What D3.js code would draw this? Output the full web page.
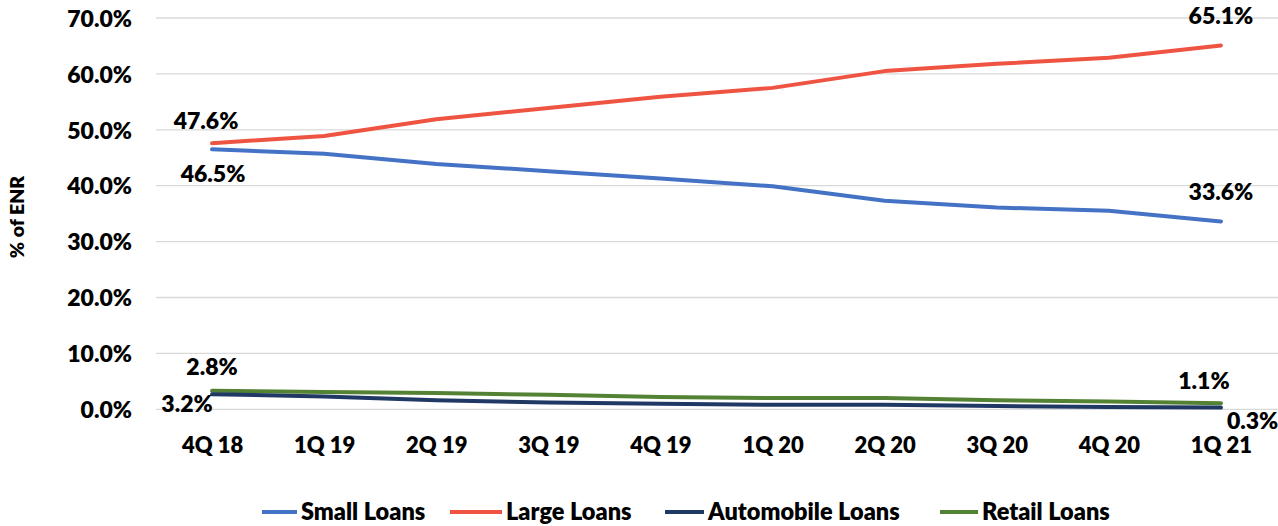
<!DOCTYPE html>
<html><head><meta charset="utf-8">
<script src="https://cdn.jsdelivr.net/npm/d3@7"></script>
<style>
html,body{margin:0;padding:0;background:#fff;}
svg text{font-family:Lato,"Open Sans",sans-serif;font-weight:800;fill:#000;}
</style></head>
<body><svg id="c" width="1278" height="526"></svg>
<script>
const categories = ["4Q 18","1Q 19","2Q 19","3Q 19","4Q 19","1Q 20","2Q 20","3Q 20","4Q 20","1Q 21"];
const smallLoans = [46.5,45.7,43.9,42.6,41.3,39.9,37.3,36.1,35.5,33.6];
const largeLoans = [47.6,48.9,51.9,53.9,55.9,57.5,60.5,61.8,62.9,65.1];
const automobileLoans = [2.7,2.3,1.6,1.2,1.0,0.8,0.8,0.6,0.4,0.3];
const retailLoans = [3.3,3.1,2.9,2.6,2.2,2.0,2.0,1.6,1.4,1.1];
const seriesNames = ["Small Loans","Large Loans","Automobile Loans","Retail Loans"];
const yTicks = [0,10,20,30,40,50,60,70];
// data labels: [series index, category index, text]
const dataLabels = [
  [1,0,"47.6%"],[0,0,"46.5%"],[1,9,"65.1%"],[0,9,"33.6%"],
  [3,0,"2.8%"],[2,0,"3.2%"],[3,9,"1.1%"],[2,9,"0.3%"]
];

const colors = ["#4472C4","#EF5443","#203864","#548235"];
const labelOffsets = [[-6,-14,"middle"],[1,33,"middle"],[0,-21,"middle"],[0,-21,"middle"],
  [0,-16,"middle"],[-25,18,"middle"],[-17,-14,"middle"],[6,21,"start"]];

const series = [smallLoans,largeLoans,automobileLoans,retailLoans];
const svg = d3.select("#c");
const x = d3.scalePoint().domain(categories).range([156,1277]).padding(0.5);
const y = d3.scaleLinear().domain([0,70]).range([409.3,18]);

// gridlines
svg.append("g").selectAll("line").data(yTicks).join("line")
  .attr("x1",156).attr("x2",1278)
  .attr("y1",d=>y(d)).attr("y2",d=>y(d))
  .attr("stroke","#d9d9d9").attr("stroke-width",1.3);

// y axis labels
const yAxis = d3.axisLeft(y).tickValues(yTicks).tickFormat(d=>d.toFixed(1)+"%").tickSize(0).tickPadding(0);
const gy = svg.append("g").attr("transform","translate(132,0)").call(yAxis);
gy.select(".domain").remove();
gy.selectAll("text").attr("font-size",23).attr("dy","0.36em").style("font-family","Lato").style("font-weight",800);

// x axis labels
const xAxis = d3.axisBottom(x).tickSize(0).tickPadding(0);
const gx = svg.append("g").attr("transform","translate(0,437)").call(xAxis);
gx.select(".domain").remove();
gx.selectAll("text").attr("font-size",22).attr("dy","0.71em").style("font-family","Lato").style("font-weight",800);

// axis title
svg.append("text").attr("transform","translate(24,217) rotate(-90)")
  .attr("text-anchor","middle").attr("font-size",19.5).text("% of ENR");

// lines
const line = d3.line().x((d,i)=>x(categories[i])).y(d=>y(d));
const drawOrder = [0,1,3,2];
drawOrder.forEach(s=>{
  svg.append("path").datum(series[s]).attr("d",line)
    .attr("fill","none").attr("stroke",colors[s]).attr("stroke-width",4)
    .attr("stroke-linejoin","round").attr("stroke-linecap","round");
});

// data labels
dataLabels.forEach((l,k)=>{
  const [s,c,t]=l; const o=labelOffsets[k];
  svg.append("text").attr("x",x(categories[c])+o[0]).attr("y",y(series[s][c])+o[1])
    .attr("text-anchor",o[2]).attr("font-size",23).text(t);
});

// legend
const legendLineX = [262,450,665,940];
const legendTextX = [301,506,708,982];
const g = svg.append("g");
seriesNames.forEach((n,i)=>{
  g.append("line").attr("x1",legendLineX[i]).attr("x2",legendTextX[i]-4)
    .attr("y1",512).attr("y2",512).attr("stroke",colors[i]).attr("stroke-width",4);
  g.append("text").attr("x",legendTextX[i]).attr("y",520).attr("font-size",23.5).text(n);
});
</script></body></html>
